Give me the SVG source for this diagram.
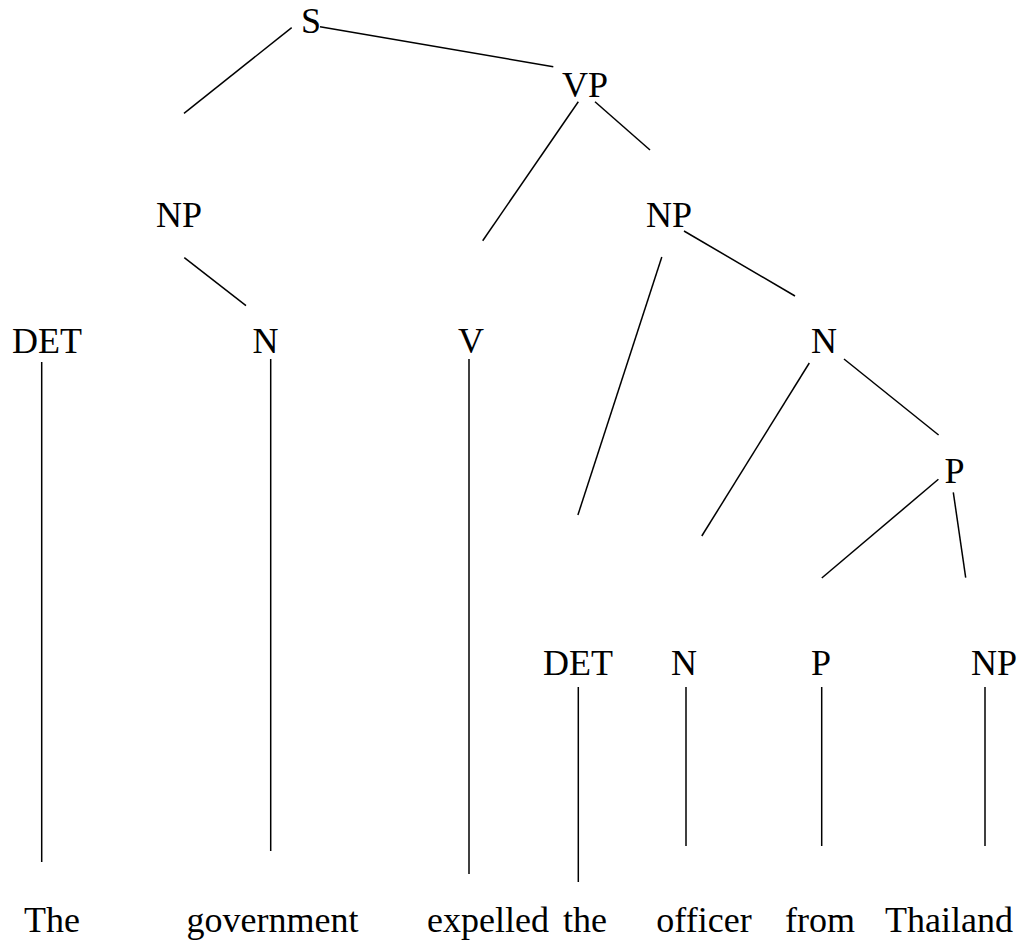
<svg xmlns="http://www.w3.org/2000/svg" width="1021" height="942" viewBox="0 0 1021 942">
<style>
.t{font-family:'Liberation Serif','Times New Roman',serif;font-size:36px;fill:#000;text-anchor:middle}
line{stroke:#000;stroke-width:1.5;fill:none}
</style>
<rect width="1021" height="942" fill="#fff"/>
<g id="connectors">
<line x1="291.7" y1="27.7" x2="184" y2="113.3"/>
<line x1="320" y1="26.7" x2="553.3" y2="66.7"/>
<line x1="578.3" y1="101.7" x2="482.7" y2="240.7"/>
<line x1="595" y1="101.7" x2="650" y2="150"/>
<line x1="184.3" y1="257.7" x2="246" y2="305.7"/>
<line x1="661.8" y1="257" x2="577.9" y2="515"/>
<line x1="684" y1="231" x2="795" y2="296"/>
<line x1="809.3" y1="363" x2="701.8" y2="536"/>
<line x1="844" y1="359" x2="938.6" y2="435"/>
<line x1="938.4" y1="479.3" x2="821.8" y2="578"/>
<line x1="953.3" y1="492.3" x2="965.7" y2="577.7"/>
<line x1="41.7" y1="362" x2="41.7" y2="862"/>
<line x1="270.7" y1="359" x2="270.7" y2="851"/>
<line x1="469" y1="359" x2="469" y2="874"/>
<line x1="578.3" y1="687" x2="578.3" y2="882"/>
<line x1="686" y1="687" x2="686" y2="846"/>
<line x1="821.7" y1="687" x2="821.7" y2="846"/>
<line x1="985" y1="687" x2="985" y2="846"/>
</g>
<g class="t">
<g id="n-S"><text x="311" y="33">S</text></g>
<g id="n-VP"><text x="585" y="97">VP</text></g>
<g id="n-NP1"><text x="179" y="227">NP</text></g>
<g id="n-NP2"><text x="669" y="227">NP</text></g>
<g id="n-DET1"><text x="47" y="353">DET</text></g>
<g id="n-N1"><text x="265.5" y="353">N</text></g>
<g id="n-V"><text x="471" y="353">V</text></g>
<g id="n-N2"><text x="824" y="353">N</text></g>
<g id="n-P1"><text x="954.5" y="483">P</text></g>
<g id="n-DET2"><text x="578" y="675">DET</text></g>
<g id="n-N3"><text x="684" y="675">N</text></g>
<g id="n-P2"><text x="821" y="675">P</text></g>
<g id="n-NP3"><text x="994" y="675">NP</text></g>
<g id="w-the1"><text x="52" y="932">The</text></g>
<g id="w-government"><text x="272.5" y="932">government</text></g>
<g id="w-expelled"><text x="488" y="932">expelled</text></g>
<g id="w-the2"><text x="585" y="932">the</text></g>
<g id="w-officer"><text x="704" y="932">officer</text></g>
<g id="w-from"><text x="820" y="932">from</text></g>
<g id="w-thailand"><text x="949" y="932">Thailand</text></g>
</g>
</svg>
